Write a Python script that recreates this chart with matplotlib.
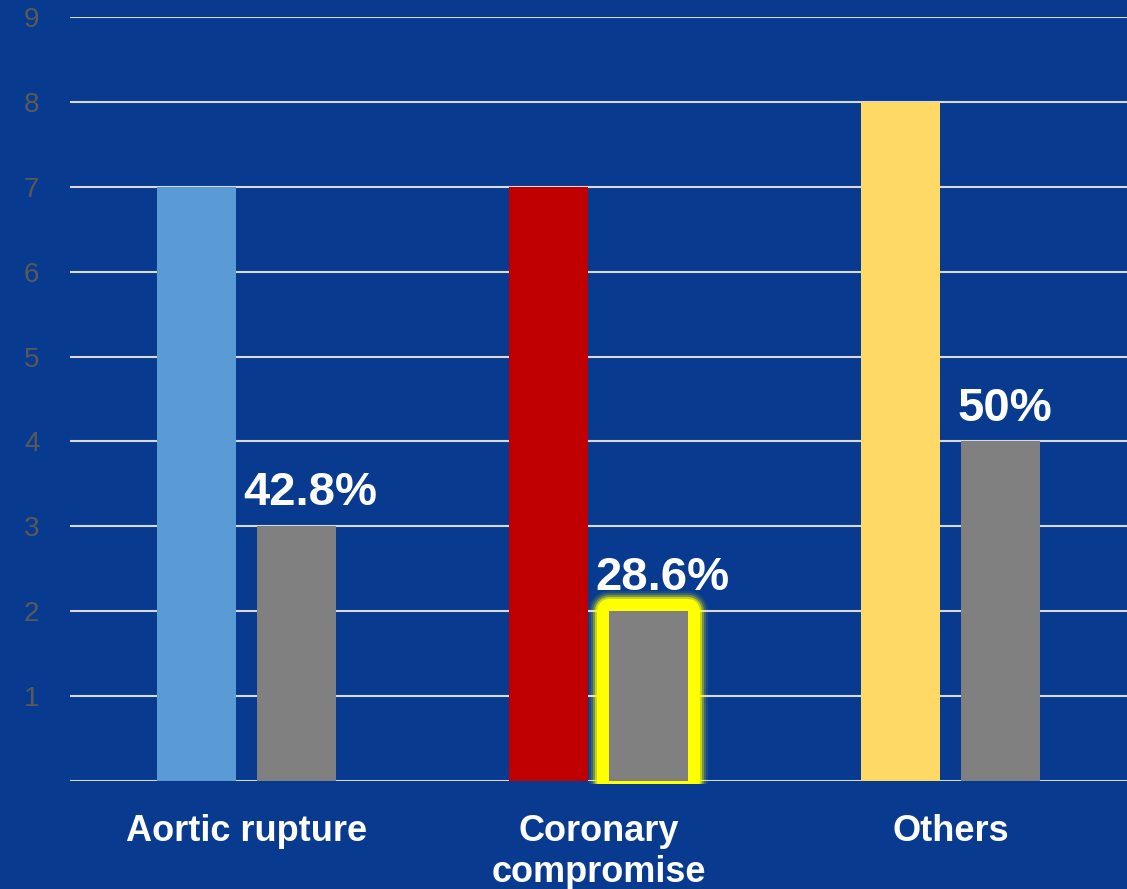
import matplotlib
matplotlib.use('Agg')
import matplotlib.pyplot as plt
from matplotlib.patches import Rectangle
import numpy as np

categories = ['Aortic rupture', 'Coronary\ncompromise', 'Others']
totals = [7, 7, 8]
deaths = [3, 2, 4]
percent_labels = ['42.8%', '28.6%', '50%']
total_colors = ['#5B9BD5', '#C00000', '#FFD966']

BG = '#083B8F'

plt.rcParams['font.family'] = ['Liberation Sans', 'DejaVu Sans']

fig = plt.figure(figsize=(11.27, 8.89), dpi=100, facecolor=BG)
ax = fig.add_axes([0.0621, 0.1215, 0.9379, 0.8594])
ax.set_facecolor(BG)

x = np.arange(len(categories))
w = 0.224
off = 0.142

ax.bar(x - off, totals, width=w, color=total_colors, zorder=3)
bars = ax.bar(x + off, deaths, width=w, color='#808080', zorder=3)

# yellow glow around the coronary compromise bar, cut just below the axis
clip = Rectangle((0, -0.004), 1, 1.2, transform=ax.transAxes,
                 facecolor='none', edgecolor='none')
ax.add_artist(clip)
glow = bars[1]
for lw, a in [(40, 0.08), (36, 0.15), (32, 0.3), (28, 0.6), (24, 1.0)]:
    g = ax.bar(glow.get_x() + w / 2, glow.get_height(), width=w, color='none',
               edgecolor='#FFFF00', linewidth=lw * 0.72, alpha=a, zorder=2.5,
               joinstyle='round')
    g[0].set_clip_path(clip)

label_dx = [0.04, 0.04, 0.01]
for i, txt in enumerate(percent_labels):
    ax.annotate(txt, (x[i] + off + label_dx[i], deaths[i]), xytext=(0, 15),
                textcoords='offset points', ha='center', va='baseline',
                color='white', fontsize=34, fontweight='bold', zorder=5)

ax.set_xlim(-0.5, 2.5)
ax.set_ylim(0, 9)
ax.set_yticks(range(0, 10))
ax.set_yticklabels([''] + [str(i) for i in range(1, 10)])
ax.set_xticks(x)
ax.set_xticklabels(categories, fontsize=26, fontweight='bold', color='white',
                   linespacing=1.2)
ax.tick_params(axis='y', length=0, pad=22, labelsize=20, labelcolor='#595959')
ax.tick_params(axis='x', length=0, pad=24)

ax.grid(axis='y', color='#D9D9D9', linewidth=1.5, zorder=1)
ax.set_axisbelow(True)
for s in ax.spines.values():
    s.set_visible(False)

fig.savefig('out.png', dpi=100, facecolor=BG)
